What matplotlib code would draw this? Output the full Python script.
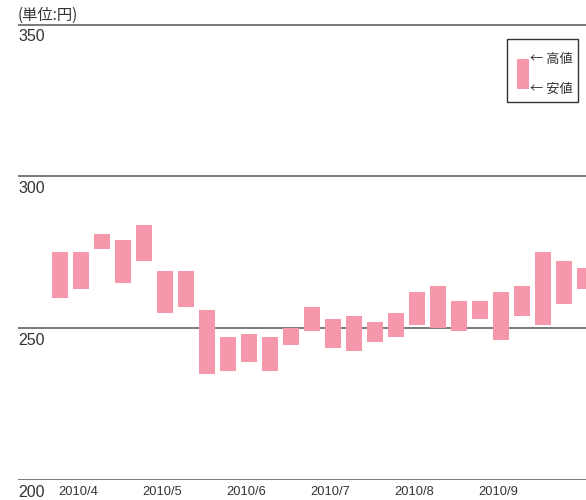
import matplotlib
matplotlib.use("Agg")
import matplotlib.pyplot as plt
from matplotlib.patches import Rectangle

plt.rcParams['font.family'] = ['Liberation Sans', 'Noto Sans CJK JP', 'DejaVu Sans']

# weekly high / low prices (yen)
highs = [275, 275, 281, 279, 284, 269, 269, 256, 247, 248, 247, 250, 257,
         253, 254, 252, 255, 262, 264, 259, 259, 262, 264, 275, 272, 270]
lows = [260, 263, 276, 265, 272, 255, 257, 235, 236, 239, 236, 244.5, 249,
        243.5, 242.5, 245.5, 247, 251, 250, 249, 253, 246, 254, 251, 258, 263]
month_labels = ["2010/4", "2010/5", "2010/6", "2010/7", "2010/8", "2010/9"]
month_pos = [0, 4, 8, 12, 16, 20]
yticks = [200, 250, 300, 350]

W, H = 586, 500
fig = plt.figure(figsize=(W / 100, H / 100), dpi=100)
ax = fig.add_axes([18 / W, (H - 480.2) / H, 568 / W, (480.2 - 24.5) / H])
ax.set_xlim(-2, 25.05)
ax.set_ylim(200, 350)
ax.axis('off')

pink = '#f598ab'
grey = '#555555'
txt = '#333333'

for y in yticks:
    ax.axhline(y, color=grey, lw=1.1, zorder=1)
    ax.text(-2, y - 4.0, str(y), ha='left', va='center', fontsize=11.5, color=txt,
            clip_on=False)

x = list(range(len(highs)))
ax.bar(x, [h - l for h, l in zip(highs, lows)], bottom=lows, width=0.762,
       color=pink, zorder=2, linewidth=0)

for lab, p in zip(month_labels, month_pos):
    ax.text(p - 0.1, 196.0, lab, ha='left', va='center', fontsize=9.3, color=txt,
            clip_on=False)

ax.text(-2, 352.9, "(単位:円)", ha='left', va='center', fontsize=11,
        color=txt, family=['Noto Sans CJK JP', 'DejaVu Sans'], clip_on=False)

# legend (figure pixel coordinates)
def fx(px):
    return px / W

def fy(py):
    return (H - py) / H

fig.patches.append(Rectangle((fx(507), fy(101.5)), (578 - 507) / W, (101.5 - 39) / H,
                             transform=fig.transFigure, facecolor='white',
                             edgecolor='#333333', lw=1.0))
fig.patches.append(Rectangle((fx(517), fy(89)), 12 / W, 30 / H,
                             transform=fig.transFigure, facecolor=pink, lw=0))
fig.text(fx(530), fy(59.5), "← 高値", ha='left', va='center', fontsize=9.5, color=txt,
         family=['Noto Sans CJK JP', 'DejaVu Sans'])
fig.text(fx(530), fy(89.5), "← 安値", ha='left', va='center', fontsize=9.5, color=txt,
         family=['Noto Sans CJK JP', 'DejaVu Sans'])

fig.savefig("out.png", dpi=100)
